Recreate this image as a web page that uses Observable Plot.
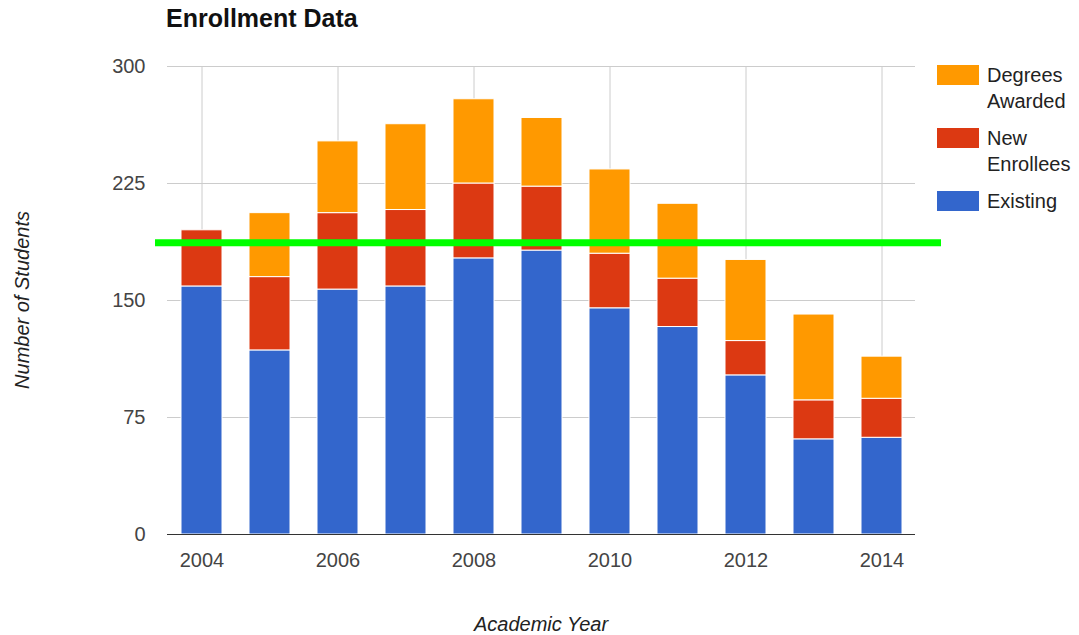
<!DOCTYPE html>
<html>
<head>
<meta charset="utf-8">
<script src="https://cdn.jsdelivr.net/npm/d3@7"></script>
<script src="https://cdn.jsdelivr.net/npm/@observablehq/plot@0.6"></script>
<style>
  html, body { margin: 0; padding: 0; background: #fff; }
  body { font-family: "Liberation Sans", Arial, Helvetica, sans-serif; }
  #wrap { position: relative; width: 1079px; height: 635px; overflow: hidden; }
  #chart { position: absolute; left: 0; top: 0; }
  .abs { position: absolute; white-space: nowrap; line-height: 1; }
  #title { left: 166px; top: 6px; font-size: 25px; font-weight: bold; color: #111; }
  #xtitle { left: 541px; top: 614px; transform: translateX(-50%); font-size: 20px; font-style: italic; color: #222; }
  #ytitle { left: 22px; top: 300px; transform: translate(-50%, -50%) rotate(-90deg); font-size: 20px; font-style: italic; color: #222; }
  .sw { position: absolute; width: 42px; height: 20px; }
  .lg { position: absolute; left: 987px; font-size: 20px; color: #222; line-height: 26px; white-space: nowrap; }
</style>
</head>
<body>
<div id="wrap">
  <div id="chart"></div>
  <div id="title" class="abs"></div>
  <div id="xtitle" class="abs"></div>
  <div id="ytitle" class="abs"></div>
  <div id="legend"></div>
</div>
<script>
const title = "Enrollment Data";
const xTitle = "Academic Year";
const yTitle = "Number of Students";
const years = [2004, 2005, 2006, 2007, 2008, 2009, 2010, 2011, 2012, 2013, 2014];
const existing = [159, 118, 157, 159, 177, 182, 145, 133, 102, 61, 62];
const newEnrollees = [36, 47, 49, 49, 48, 41, 35, 31, 22, 25, 25];
const degreesAwarded = [0, 41, 46, 55, 54, 44, 54, 48, 52, 55, 27];
const seriesNames = ["Existing", "New Enrollees", "Degrees Awarded"];
const seriesColors = ["#3366cc", "#dc3912", "#ff9900"];
const legendLines = [["Degrees", "Awarded"], ["New", "Enrollees"], ["Existing"]];
const legendColors = ["#ff9900", "#dc3912", "#3366cc"];
const yTicks = [0, 75, 150, 225, 300];
const xTicks = [2004, 2006, 2008, 2010, 2012, 2014];
const thresholdValue = [187];

const seriesValues = [existing, newEnrollees, degreesAwarded];
const rows = [];
years.forEach((yr, i) => {
  seriesNames.forEach((s, k) => rows.push({year: yr, series: s, value: seriesValues[k][i]}));
});

const chart = Plot.plot({
  width: 1079,
  height: 635,
  marginLeft: 167,
  marginRight: 164,
  marginTop: 66,
  marginBottom: 101,
  style: {fontFamily: '"Liberation Sans", Arial, sans-serif', background: "transparent"},
  x: {type: "band", domain: years, paddingInner: 0.4, paddingOuter: 0.2, axis: null},
  y: {domain: [0, 300], axis: null},
  color: {domain: seriesNames, range: seriesColors},
  marks: [
    Plot.ruleY(yTicks.filter(d => d > 0), {stroke: "#cccccc", strokeWidth: 1}),
    Plot.ruleX(xTicks, {stroke: "#cccccc", strokeWidth: 1}),
    Plot.barY(rows, {x: "year", y: "value", fill: "series", order: seriesNames, stroke: "white", strokeWidth: 1}),
    Plot.ruleY([0], {stroke: "#333333", strokeWidth: 1.2}),
    Plot.ruleY(thresholdValue, {stroke: "#00ff00", strokeWidth: 7, insetLeft: -12, insetRight: -26}),
    Plot.axisY(yTicks, {tickSize: 0, tickPadding: 22, fontSize: 20, color: "#444", tickFormat: d => String(d), label: null}),
    Plot.axisX(xTicks, {tickSize: 0, tickPadding: 18, fontSize: 20, color: "#444", tickFormat: d => String(d), label: null})
  ]
});
document.getElementById("chart").appendChild(chart);
document.getElementById("title").textContent = title;
document.getElementById("xtitle").textContent = xTitle;
document.getElementById("ytitle").textContent = yTitle;

const legend = document.getElementById("legend");
const swTops = [65, 128, 191];
legendLines.forEach((lines, i) => {
  const sw = document.createElement("div");
  sw.className = "sw";
  sw.style.left = "937px";
  sw.style.top = swTops[i] + "px";
  sw.style.background = legendColors[i];
  legend.appendChild(sw);
  const t = document.createElement("div");
  t.className = "lg";
  t.style.top = (swTops[i] - 3) + "px";
  t.innerHTML = lines.join("<br>");
  legend.appendChild(t);
});
</script>
</body>
</html>
